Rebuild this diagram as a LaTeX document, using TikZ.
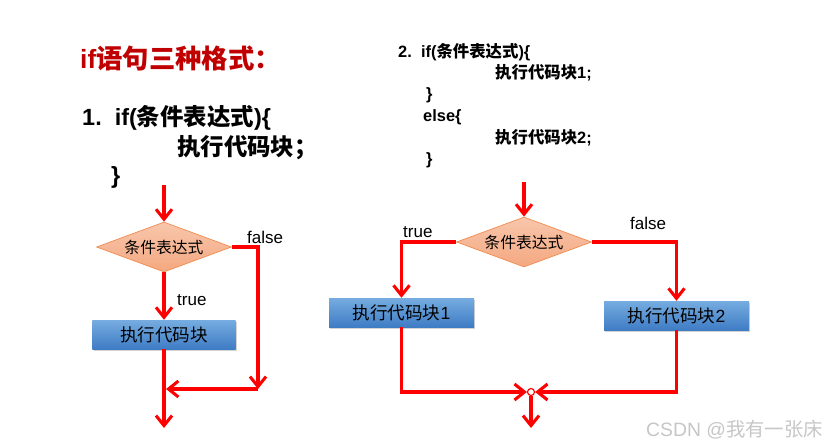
\documentclass[tikz,border=0pt]{standalone}
\usepackage{fontspec}
\setmainfont{Liberation Sans}
\newfontfamily\cjk{Noto Sans CJK SC}
\usetikzlibrary{arrows.meta,shapes.geometric,shadows}
\definecolor{FlowRed}{RGB}{255,0,0}
\definecolor{TitleRed}{RGB}{192,0,0}
\definecolor{DiamondFill}{RGB}{244,168,128}
\definecolor{DiamondTop}{RGB}{248,198,172}
\definecolor{DiamondEdge}{RGB}{240,140,80}
\definecolor{BoxTop}{RGB}{118,172,224}
\definecolor{BoxBottom}{RGB}{62,124,196}
\newcommand{\fs}[1]{\fontsize{#1pt}{#1pt}\selectfont}

\begin{document}
\begin{tikzpicture}[x=0.03cm,y=-0.03cm,
    flow/.style={draw=FlowRed,line width=2.6pt,-{Straight Barb[length=3mm,width=4.8mm]}},
    cond/.style={diamond,draw=DiamondEdge,line width=0.6pt,top color=DiamondTop,
      bottom color=DiamondFill,minimum width=4.05cm,minimum height=1.5cm,
      inner sep=0pt,aspect=2.7,font=\cjk\fs{13.5}},
    block/.style={rectangle,top color=BoxTop,bottom color=BoxBottom,
      minimum width=4.3cm,minimum height=0.87cm,font=\cjk\fs{15},
      drop shadow={opacity=0.35,shadow xshift=1pt,shadow yshift=-1.5pt}},
    lbl/.style={font=\fs{14.5},inner sep=0pt,anchor=west},
    code/.style={anchor=west,inner sep=0pt,font=\bfseries\fs{20}}]
  \useasboundingbox (0,0) rectangle (834,446);
  % code text
  \node[code,text=TitleRed,font=\bfseries\fs{22.5}] (title) at (80,58) {if{\cjk 语句三种格式：}};
  \node[code] (ca1) at (82,118) {1.\ \ if({\cjk 条件表达式})\{};
  \node[code] (ca2) at (177,148) {{\cjk 执行代码块；}};
  \node[code] (ca3) at (111,177) {\}};
  \node[code,font=\bfseries\fs{14}] (cb1) at (398,52) {2.\ \ if({\cjk 条件表达式})\{};
  \node[code,font=\bfseries\fs{14}] (cb2) at (495,73) {{\cjk 执行代码块}1;};
  \node[code,font=\bfseries\fs{14}] (cb3) at (426,95) {\}};
  \node[code,font=\bfseries\fs{14}] (cb4) at (423,117) {else\{};
  \node[code,font=\bfseries\fs{14}] (cb5) at (495,138) {{\cjk 执行代码块}2;};
  \node[code,font=\bfseries\fs{14}] (cb6) at (426,160) {\}};

  % if
  \coordinate (s1) at (164,185);
  \node[cond] (d1) at (164,247) {条件表达式};
  \node[block,minimum width=4.29cm] (b1) at (164,334.5) {执行代码块};
  \coordinate (c1) at (258,389);
  \coordinate (j1) at (166,389);
  \coordinate (e1) at (164,428);
  \draw[flow] (s1) -- (d1.north);
  \draw[flow] (d1.south) -- (b1.north);
  \draw[flow] (d1.east) -| (c1);
  \draw[flow] (c1) -- (j1);
  \draw[flow] (b1.south) -- (e1);
  \node[lbl] (t1) at (177,300) {true};
  \node[lbl] (f1) at (247,237) {false};

  % if-else
  \coordinate (s2) at (524,182);
  \node[cond] (d2) at (524,242) {条件表达式};
  \node[block,minimum width=4.35cm] (b21) at (401.5,312.5) {执行代码块{\rmfamily 1}};
  \node[block,minimum width=4.35cm] (b22) at (676.5,315.5) {执行代码块{\rmfamily 2}};
  \node[circle,draw=FlowRed,fill=white,line width=1pt,minimum size=0.21cm,inner sep=0pt] (j2) at (531,392) {};
  \coordinate (e2) at (531,428);
  \draw[flow] (s2) -- (d2.north);
  \draw[flow] (d2.west) -| (b21.north);
  \draw[flow] (d2.east) -| (b22.north);
  \draw[flow] (b21.south) |- (j2.west);
  \draw[flow] (b22.south) |- (j2.east);
  \draw[flow] (j2.south) -- (e2);
  \node[lbl] (t2) at (403,232) {true};
  \node[lbl] (f2) at (630,223) {false};

  \node[anchor=west,inner sep=0pt,text=gray!45,font=\fs{16.5}] (wm) at (646,430) {CSDN @{\cjk 我有一张床}};
\end{tikzpicture}
\end{document}
